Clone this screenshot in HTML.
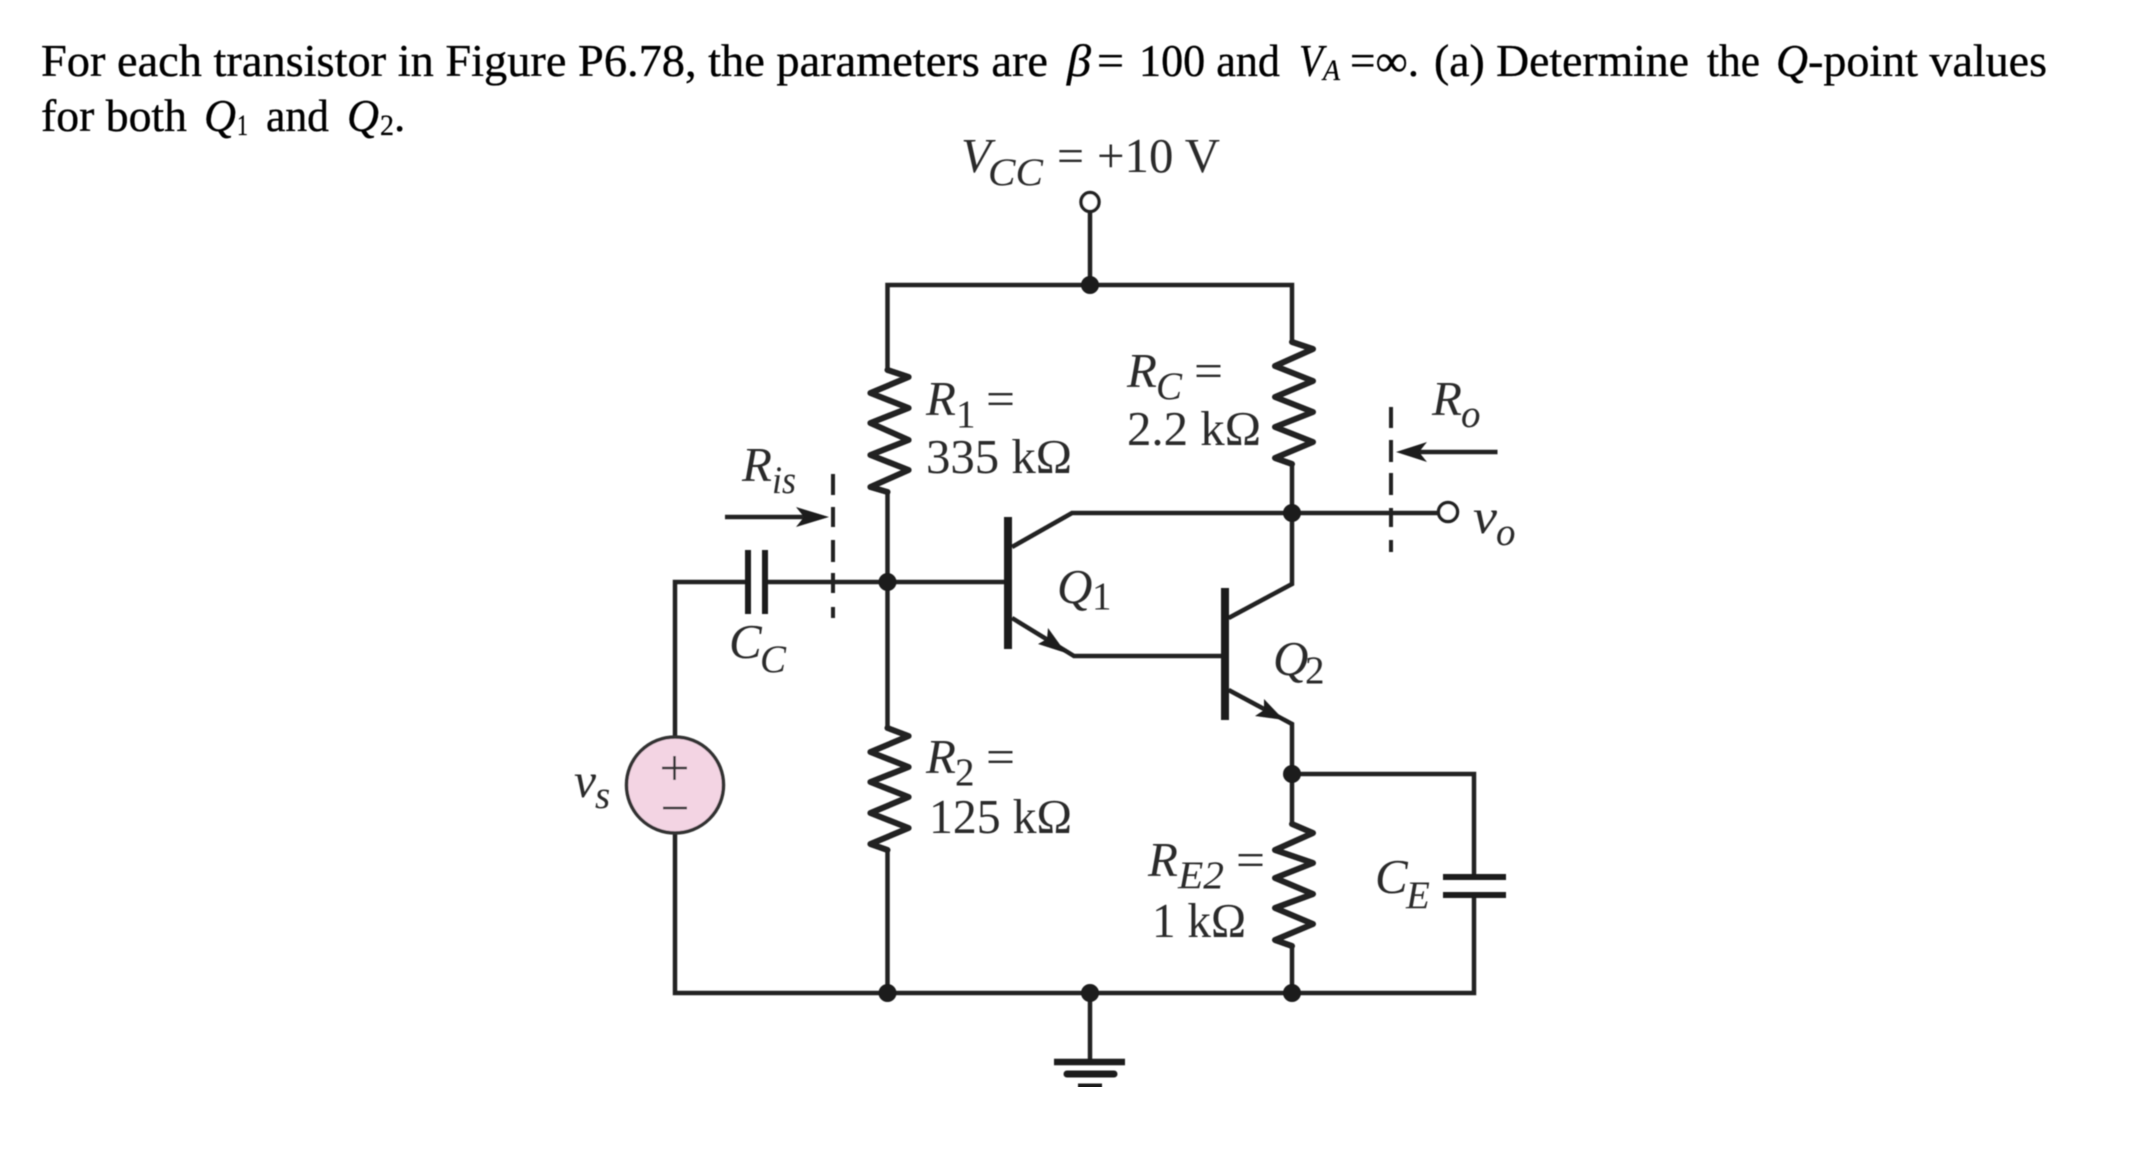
<!DOCTYPE html>
<html><head><meta charset="utf-8"><style>
html,body{margin:0;padding:0;background:#fff}
svg{display:block}
text{font-family:"Liberation Serif",serif}
.h{font-size:45px;fill:#000;stroke:#000;stroke-width:.35}
.hs{font-size:30px;fill:#000;stroke:#000;stroke-width:.25}
.f{font-size:49px;fill:#2a2a2a}
.s{font-size:39px;fill:#2a2a2a}
.i{font-style:italic}
.w{fill:none;stroke:#222;stroke-width:4.5;stroke-linejoin:miter}
.z{fill:none;stroke:#222;stroke-width:6;stroke-linejoin:round;stroke-linecap:round}
.t{fill:none;stroke:#1c1c1c;stroke-width:8}
.d{fill:none;stroke:#222;stroke-width:4}
.n{fill:#1c1c1c}
</style></head><body>
<svg width="2153" height="1156" viewBox="0 0 2153 1156" xmlns="http://www.w3.org/2000/svg">
<defs><filter id="b" x="0" y="0" width="100%" height="100%"><feGaussianBlur stdDeviation="0.6"/></filter></defs>
<rect width="2153" height="1156" fill="#fff"/>
<g filter="url(#b)">
<!-- header -->
<text class="h" x="41" y="76" textLength="1007" lengthAdjust="spacingAndGlyphs">For each transistor in Figure P6.78, the parameters are</text>
<text class="h i" x="1067" y="76" textLength="24" lengthAdjust="spacingAndGlyphs">β</text>
<text class="h" x="1097" y="76" textLength="27" lengthAdjust="spacingAndGlyphs">=</text>
<text class="h" x="1139" y="76" textLength="141" lengthAdjust="spacingAndGlyphs">100 and</text>
<text class="h i" x="1299" y="76" textLength="24" lengthAdjust="spacingAndGlyphs">V</text>
<text class="hs i" x="1323" y="80" textLength="17" lengthAdjust="spacingAndGlyphs">A</text>
<text class="h" x="1350" y="76" textLength="69" lengthAdjust="spacingAndGlyphs">=∞.</text>
<text class="h" x="1434" y="76" textLength="255" lengthAdjust="spacingAndGlyphs">(a) Determine</text>
<text class="h" x="1707" y="76" textLength="53" lengthAdjust="spacingAndGlyphs">the</text>
<text class="h i" x="1776" y="76" textLength="32" lengthAdjust="spacingAndGlyphs">Q</text>
<text class="h" x="1808" y="76" textLength="239" lengthAdjust="spacingAndGlyphs">-point values</text>
<text class="h" x="41" y="131" textLength="146" lengthAdjust="spacingAndGlyphs">for both</text>
<text class="h i" x="204" y="131" textLength="32" lengthAdjust="spacingAndGlyphs">Q</text>
<text class="hs" x="237" y="135" textLength="11" lengthAdjust="spacingAndGlyphs">1</text>
<text class="h" x="266" y="131" textLength="63" lengthAdjust="spacingAndGlyphs">and</text>
<text class="h i" x="347" y="131" textLength="32" lengthAdjust="spacingAndGlyphs">Q</text>
<text class="hs" x="380" y="135" textLength="14" lengthAdjust="spacingAndGlyphs">2</text>
<text class="h" x="394" y="131">.</text>

<!-- wires -->
<path class="w" d="M1090 212V285M887.5 370V285H1292V342"/>
<path class="w" d="M887.5 490V728M887.5 850V993"/>
<path class="w" d="M675 737V582H745M768 582H1004"/>
<path class="w" d="M675 833V993H1474V895"/>
<path class="w" d="M1474 877V774H1292"/>
<path class="w" d="M1292 463V584L1228.6 618"/>
<path class="w" d="M1012 547L1072 513H1438"/>
<path class="w" d="M1012 618L1074 656H1225"/>
<path class="w" d="M1228.6 690L1292 724V824M1292 945V993"/>
<path class="w" d="M1090 993V1062"/>

<!-- resistors -->
<path class="z" d="M887.5 370L908.6 377L870.4 393L908.6 408L870.4 423L908.6 440L870.4 455L908.6 470L870.4 487L887.5 492"/>
<path class="z" d="M887.5 728L908.6 736L870.4 752L908.6 767L870.4 782L908.6 797L870.4 813L908.6 828L870.4 844L887.5 850"/>
<path class="z" d="M1292 342L1313 349L1275 366L1313 381L1275 397L1313 412L1275 427L1313 442L1275 458L1292 464"/>
<path class="z" d="M1292 824L1313 833L1275 850L1313 863L1275 878L1313 894L1275 908L1313 924L1275 940L1292 946"/>

<!-- transistor bars -->
<path class="t" d="M1008 517V649M1225 588V720"/>
<!-- arrows in emitters -->
<path class="n" d="M1066 653L1038 644L1047 639L1048 628Z"/>
<path class="n" d="M1284 720L1255 716L1264 710L1264 699Z"/>

<!-- capacitors -->
<path d="M748 550V614M765 550V614" fill="none" stroke="#1c1c1c" stroke-width="6"/>
<path d="M1443 877H1506M1443 895H1506" fill="none" stroke="#1c1c1c" stroke-width="6"/>

<!-- dashed lines -->
<path class="d" d="M833 474V495M833 507V527M833 540V562M833 573V593M833 607V618"/>
<path class="d" d="M1391 407V428M1391 440V462M1391 473V495M1391 508V527M1391 540V552"/>

<!-- R arrows -->
<path class="w" d="M725 517H805"/>
<path class="n" d="M829 517L796 507L804 517L796 527Z"/>
<path class="w" d="M1415 452H1497.5"/>
<path class="n" d="M1396 452L1427 442L1419 452L1427 462Z"/>

<!-- junctions -->
<g class="n">
<circle cx="1090" cy="285" r="9"/>
<circle cx="887.5" cy="582" r="9"/>
<circle cx="1292" cy="513" r="9"/>
<circle cx="1292" cy="774" r="9"/>
<circle cx="887.5" cy="993" r="9"/>
<circle cx="1090" cy="993" r="9"/>
<circle cx="1292" cy="993" r="9"/>
</g>

<!-- open terminals -->
<ellipse cx="1090" cy="202" rx="9" ry="9.5" fill="#fff" stroke="#222" stroke-width="3.5"/>
<circle cx="1448" cy="512" r="9.5" fill="#fff" stroke="#222" stroke-width="3.5"/>

<!-- source -->
<ellipse cx="675" cy="785" rx="48.5" ry="48" fill="#f3d4e3" stroke="#333" stroke-width="3.5"/>
<path d="M662 768H687M674.500 756V780M663 808H687" fill="none" stroke="#333" stroke-width="2.500"/>

<!-- ground -->
<path d="M1054 1062H1125" stroke="#1c1c1c" stroke-width="6.500" fill="none"/>
<path d="M1067 1074H1114" stroke="#1c1c1c" stroke-width="7" fill="none" stroke-linecap="round"/>
<path d="M1078 1087H1102" stroke="#1c1c1c" stroke-width="7" fill="none"/>

<!-- labels -->
<text class="f i" x="961" y="172">V</text>
<text class="s i" x="988" y="185" textLength="55" lengthAdjust="spacingAndGlyphs">CC</text>
<text class="f" x="1057" y="172" textLength="27" lengthAdjust="spacingAndGlyphs">=</text>
<text class="f" x="1097" y="172" textLength="123" lengthAdjust="spacingAndGlyphs">+10 V</text>

<text class="f i" x="926" y="415">R</text>
<text class="s" x="956" y="427">1</text>
<text class="f" x="986" y="415" textLength="29" lengthAdjust="spacingAndGlyphs">=</text>
<text class="f" x="926" y="473" textLength="146" lengthAdjust="spacingAndGlyphs">335 kΩ</text>

<text class="f i" x="926" y="773">R</text>
<text class="s" x="955" y="785">2</text>
<text class="f" x="986" y="773" textLength="29" lengthAdjust="spacingAndGlyphs">=</text>
<text class="f" x="929" y="833" textLength="143" lengthAdjust="spacingAndGlyphs">125 kΩ</text>

<text class="f i" x="1127" y="387">R</text>
<text class="s i" x="1156" y="399">C</text>
<text class="f" x="1194" y="387" textLength="29" lengthAdjust="spacingAndGlyphs">=</text>
<text class="f" x="1127" y="445" textLength="134" lengthAdjust="spacingAndGlyphs">2.2 kΩ</text>

<text class="f i" x="1148" y="876">R</text>
<text class="s i" x="1178" y="888" textLength="46" lengthAdjust="spacingAndGlyphs">E2</text>
<text class="f" x="1236" y="876" textLength="29" lengthAdjust="spacingAndGlyphs">=</text>
<text class="f" x="1152" y="937" textLength="94" lengthAdjust="spacingAndGlyphs">1 kΩ</text>

<text class="f i" x="1432" y="415">R</text>
<text class="s i" x="1461" y="427">o</text>
<text class="f i" x="742" y="481">R</text>
<text class="s i" x="772" y="493" textLength="24" lengthAdjust="spacingAndGlyphs">is</text>
<text class="f i" x="729" y="658">C</text>
<text class="s i" x="760" y="672">C</text>
<text class="f i" x="1375" y="893">C</text>
<text class="s i" x="1406" y="908">E</text>
<text class="f i" x="1057" y="603">Q</text>
<text class="s" x="1092" y="609">1</text>
<text class="f i" x="1273" y="675">Q</text>
<text class="s" x="1305" y="683">2</text>
<text class="f i" x="1473" y="533" textLength="24" lengthAdjust="spacingAndGlyphs">v</text>
<text class="s i" x="1496" y="545">o</text>
<text class="f i" x="574" y="797" textLength="22" lengthAdjust="spacingAndGlyphs">v</text>
<text class="s i" x="595" y="808">s</text>
</g>
</svg>
</body></html>
